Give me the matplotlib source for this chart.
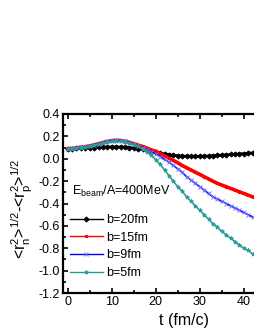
import matplotlib
matplotlib.use("Agg")
import matplotlib.pyplot as plt
from matplotlib.ticker import MultipleLocator

plt.rcParams['font.family'] = ['Liberation Sans', 'DejaVu Sans']
plt.rcParams['mathtext.fontset'] = 'custom'
plt.rcParams['mathtext.rm'] = 'Liberation Sans'
plt.rcParams['mathtext.it'] = 'Liberation Sans'
plt.rcParams['axes.unicode_minus'] = False

t = list(range(0, 45))
b20 = [0.09, 0.09, 0.092, 0.094, 0.096, 0.098, 0.100, 0.102, 0.104, 0.105,
       0.106, 0.106, 0.105, 0.103, 0.100, 0.096, 0.090, 0.083, 0.075, 0.067,
       0.058, 0.050, 0.043, 0.036, 0.031, 0.027, 0.024, 0.022, 0.021, 0.021,
       0.022, 0.023, 0.025, 0.027, 0.030, 0.032, 0.035, 0.038, 0.040, 0.043,
       0.046, 0.049, 0.052, 0.055, 0.058]
b15 = [0.09, 0.092, 0.097, 0.102, 0.108, 0.115, 0.124, 0.134, 0.145, 0.155,
       0.162, 0.165, 0.163, 0.157, 0.147, 0.135, 0.122, 0.110, 0.095, 0.080,
       0.065, 0.045, 0.025, 0.005, -0.015, -0.035, -0.060, -0.080, -0.100, -0.120,
       -0.140, -0.160, -0.180, -0.200, -0.220, -0.235, -0.250, -0.265, -0.280, -0.295,
       -0.310, -0.325, -0.340, -0.350, -0.360]
b9 = [0.09, 0.092, 0.097, 0.102, 0.108, 0.115, 0.124, 0.134, 0.145, 0.155,
      0.162, 0.165, 0.163, 0.155, 0.145, 0.130, 0.115, 0.100, 0.080, 0.060,
      0.045, 0.020, -0.005, -0.030, -0.060, -0.090, -0.120, -0.160, -0.190, -0.220,
      -0.250, -0.280, -0.310, -0.340, -0.360, -0.380, -0.400, -0.420, -0.440, -0.460,
      -0.480, -0.500, -0.520, -0.535, -0.550]
b5 = [0.09, 0.09, 0.095, 0.100, 0.105, 0.110, 0.120, 0.130, 0.140, 0.150,
      0.155, 0.157, 0.155, 0.150, 0.140, 0.125, 0.110, 0.090, 0.060, 0.030,
      -0.010, -0.050, -0.100, -0.150, -0.200, -0.250, -0.290, -0.340, -0.380, -0.420,
      -0.460, -0.500, -0.540, -0.580, -0.610, -0.650, -0.680, -0.710, -0.740, -0.770,
      -0.800, -0.820, -0.850, -0.870, -0.890]

labels = ['b=20fm', 'b=15fm', 'b=9fm', 'b=5fm']
colors = ['black', 'red', 'blue', '#2a9d96']
marker_colors = ['black', 'red', '#7a7aff', '#2a9d96']
markers = ['D', 's', 'x', '*']
line_widths = [2.0, 2.6, 1.2, 1.2]
marker_sizes = [2.6, 1.6, 2.8, 2.8]
series = [b20, b15, b9, b5]

W, H = 255, 330
fig = plt.figure(figsize=(W / 100, H / 100), dpi=100)
left = 62.7 / W
bottom = 1 - 293 / H
top = 1 - 114 / H
x0_px, ppu = 67.7, 4.4
xmin = (62.7 - x0_px) / ppu
xmax = 50
right_px = x0_px + ppu * xmax
ax = fig.add_axes([left, bottom, (right_px - 62.7) / W, top - bottom])

handles = []
for y, lab, c, mc, m, lw, ms in zip(series, labels, colors, marker_colors, markers,
                                    line_widths, marker_sizes):
    h, = ax.plot(t, y, color=c, lw=lw, marker=m, ms=ms, mew=0.7, mfc=mc, mec=mc,
                 label=lab, zorder=3)
    handles.append(h)

ax.set_xlim(xmin, xmax)
ax.set_ylim(-1.2, 0.4)
ax.xaxis.set_major_locator(MultipleLocator(10))
ax.xaxis.set_minor_locator(MultipleLocator(5))
ax.yaxis.set_major_locator(MultipleLocator(0.2))
ax.yaxis.set_minor_locator(MultipleLocator(0.1))
ax.set_yticks([0.4, 0.2, 0.0, -0.2, -0.4, -0.6, -0.8, -1.0, -1.2])
ax.set_yticklabels(['0.4', '0.2', '0.0', '-0.2', '-0.4', '-0.6', '-0.8', '-1.0', '-1.2'])
ax.tick_params(which='both', direction='in', top=True, right=True, labelsize=9, width=1.2, pad=2)
ax.tick_params(which='major', length=3.5)
ax.tick_params(which='minor', length=2)
for s in ax.spines.values():
    s.set_linewidth(1.6)

fig.text(183.7 / W, 1 - 320 / H, 't (fm/c)', fontsize=11.5, ha='center', va='center')
fig.text(22 / W, 1 - 209 / H, r'<r$_n^2$>$^{1/2}$-<r$_p^2$>$^{1/2}$', fontsize=11.5,
         rotation=90, ha='center', va='center')

ax.text(71.7 / W, 1 - 195 / H, r'E$_{\mathrm{beam}}$/A=400MeV', transform=fig.transFigure,
        fontsize=9, ha='left', va='baseline')
ax.text(42.3, 0.275, 'x', fontsize=7, ha='left', va='center')

leg = ax.legend(handles=handles, loc='upper left', bbox_to_anchor=(70 / W, 1 - 214 / H),
                bbox_transform=fig.transFigure, frameon=False, fontsize=9,
                handlelength=2.6, handletextpad=0.3, labelspacing=0.45, borderpad=0,
                borderaxespad=0, markerscale=1.0, numpoints=1)
for lh in leg.get_lines():
    lh.set_linewidth(1.0)

fig.savefig('out.png', dpi=100)
